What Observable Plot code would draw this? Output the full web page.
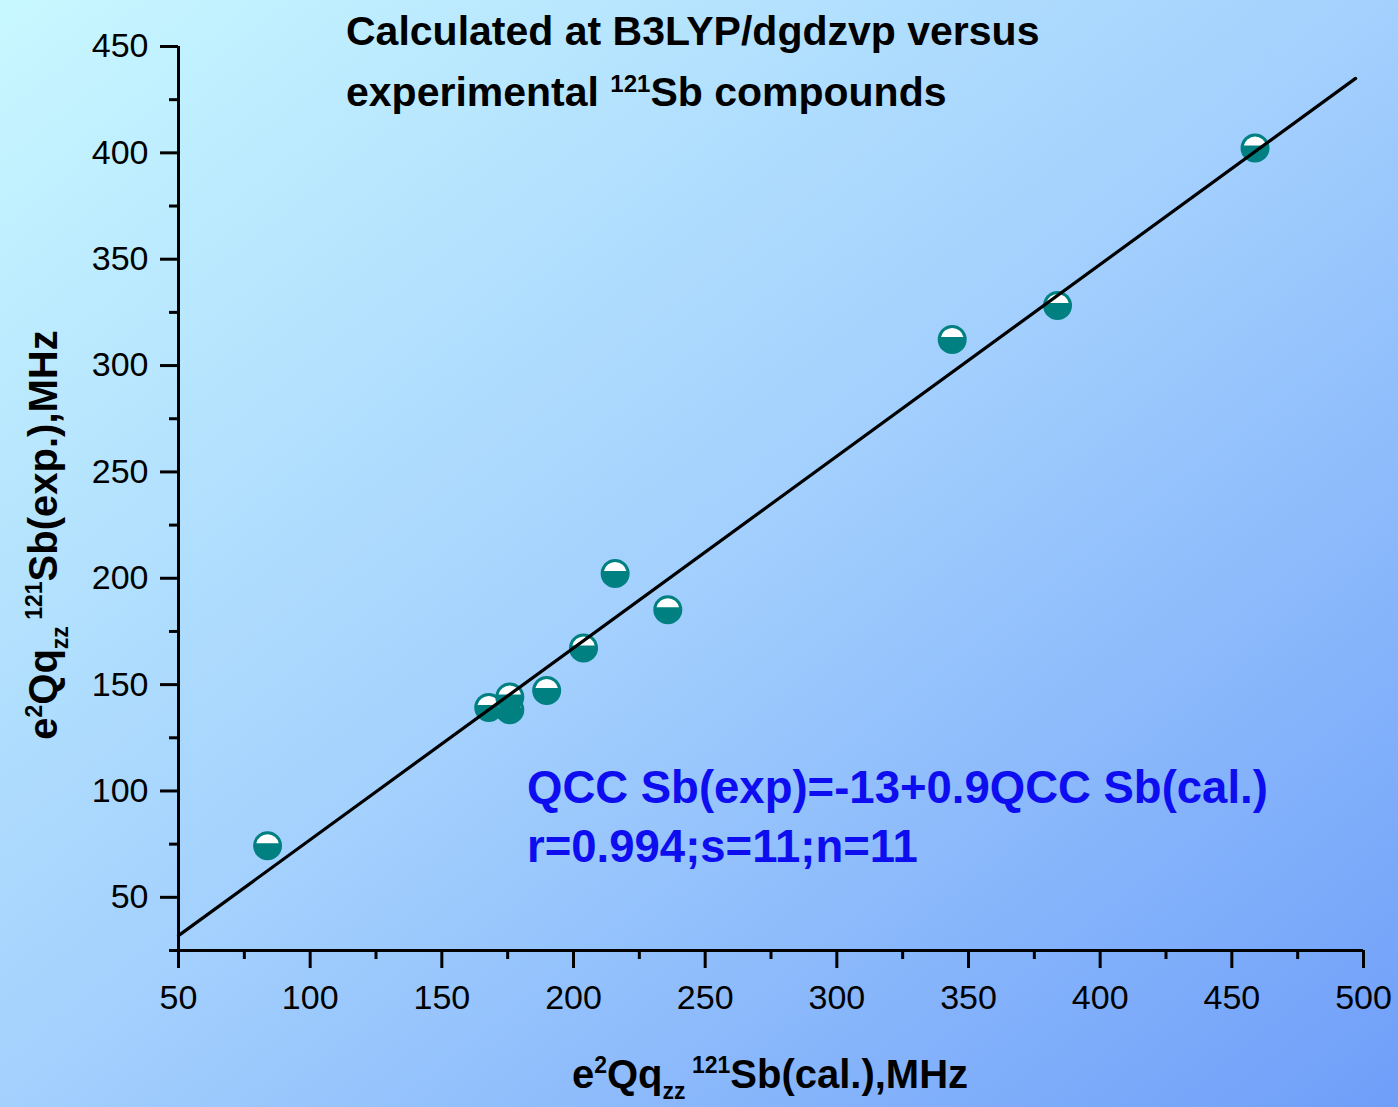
<!DOCTYPE html>
<html><head><meta charset="utf-8">
<script src="https://cdn.jsdelivr.net/npm/d3@7"></script>
<script src="https://cdn.jsdelivr.net/npm/@observablehq/plot@0.6"></script>
<style>
html,body{margin:0;padding:0;}
body{width:1398px;height:1107px;overflow:hidden;background:linear-gradient(to bottom right,#c8f8ff 0%,#a3d0fd 50%,#6f9ef9 100%);}
#chart{position:relative;width:1398px;height:1107px;}
svg{display:block;}
</style></head><body><div id="chart"></div>
<script>
// Data
const calcQCC = [84, 168, 176, 176, 190, 204, 216, 236, 344, 384, 459];
const expQCC  = [74, 139, 138, 144, 147, 167, 202, 185, 312, 328, 402];
// Regression line endpoints
const fitCalc = [50, 497];
const fitExp  = [32, 435];
// Axis ticks
const xMajor = [50, 100, 150, 200, 250, 300, 350, 400, 450, 500];
const xMinor = [75, 125, 175, 225, 275, 325, 375, 425, 475];
const yMajor = [50, 100, 150, 200, 250, 300, 350, 400, 450];
const yMinor = [25, 75, 125, 175, 225, 275, 325, 375, 425];

const points = calcQCC.map((c, i) => ({calc: c, exp: expQCC[i]}));
const fitLine = fitCalc.map((c, i) => ({calc: c, exp: fitExp[i]}));

const FONT = "'Liberation Sans', Arial, Helvetica, sans-serif";
const TEAL = "#008080";

const plot = Plot.plot({
  width: 1398,
  height: 1107,
  marginLeft: 178,
  marginRight: 35,
  marginTop: 46,
  marginBottom: 157,
  style: {fontFamily: FONT, background: "transparent", color: "black", overflow: "visible"},
  x: {domain: [50, 500]},
  y: {domain: [25, 450]},
  marks: [
    Plot.ruleX([50], {strokeWidth: 3, stroke: "black"}),
    Plot.ruleY([25], {strokeWidth: 3, stroke: "black"}),
    Plot.axisX({ticks: xMajor, tickSize: 18, strokeWidth: 3, tickPadding: 16, fontSize: 34, tickFormat: d => String(d), label: null}),
    Plot.axisX({ticks: xMinor, tickSize: 9, strokeWidth: 3, tickFormat: () => "", label: null}),
    Plot.axisY({ticks: yMajor, tickSize: 18, strokeWidth: 3, tickPadding: 12, fontSize: 34, tickFormat: d => String(d), label: null}),
    Plot.axisY({ticks: yMinor, tickSize: 9, strokeWidth: 3, tickFormat: () => "", label: null}),
    Plot.dot(points, {
      x: "calc", y: "exp", r: 14.5,
      render(index, scales, values) {
        const g = d3.create("svg:g");
        for (const i of index) {
          const cx = values.x[i], cy = values.y[i];
          g.append("circle").attr("cx", cx).attr("cy", cy).attr("r", 14.5)
            .attr("fill", TEAL);
          const r = 11.5, d = 2.5, w = Math.sqrt(r * r - d * d);
          g.append("path")
            .attr("d", `M${cx - w},${cy - d}A${r},${r} 0 0 1 ${cx + w},${cy - d}Z`)
            .attr("fill", "white");
        }
        return g.node();
      }
    }),
    Plot.line(fitLine, {x: "calc", y: "exp", stroke: "black", strokeWidth: 3.2})
  ]
});

document.getElementById("chart").appendChild(plot);

const svg = d3.select(plot);
const T = svg.append("g").attr("font-family", FONT).attr("font-weight", "bold").attr("fill", "black").attr("text-anchor", "start");

// Title
T.append("text").attr("x", 346).attr("y", 45).attr("font-size", 41).attr("text-anchor", "start").text("Calculated at B3LYP/dgdzvp versus");
const t2 = T.append("text").attr("x", 346).attr("y", 106).attr("font-size", 41).attr("text-anchor", "start");
t2.append("tspan").text("experimental ");
t2.append("tspan").attr("font-size", 24).attr("dy", -14).text("121");
t2.append("tspan").attr("dy", 14).text("Sb compounds");

// Axis label builder
function qccLabel(sel, tail) {
  sel.append("tspan").text("e");
  sel.append("tspan").attr("font-size", 23).attr("dy", -15).text("2");
  sel.append("tspan").attr("dy", 15).text("Qq");
  sel.append("tspan").attr("font-size", 23).attr("dy", 11).text("zz");
  sel.append("tspan").attr("font-size", 23).attr("dy", -26).text(" 121");
  sel.append("tspan").attr("dy", 15).text(tail);
}
const xl = T.append("text").attr("x", 770).attr("y", 1088).attr("font-size", 40).attr("text-anchor", "middle");
qccLabel(xl, "Sb(cal.),MHz");
const yl = T.append("text").attr("transform", "translate(57,535) rotate(-90)").attr("font-size", 40).attr("text-anchor", "middle");
qccLabel(yl, "Sb(exp.),MHz");

// Regression annotation
const A = svg.append("g").attr("font-family", FONT).attr("font-weight", "bold").attr("fill", "#0d0df0").attr("font-size", 45.5).attr("text-anchor", "start");
A.append("text").attr("x", 527).attr("y", 803).attr("text-anchor", "start").text("QCC Sb(exp)=-13+0.9QCC Sb(cal.)");
A.append("text").attr("x", 527).attr("y", 862).attr("text-anchor", "start").text("r=0.994;s=11;n=11");
</script>
</body></html>
